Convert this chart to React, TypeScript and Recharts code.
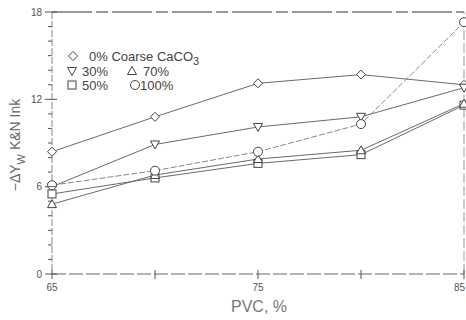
import React from 'react';
import { LineChart, Line, XAxis, YAxis, ReferenceLine, Customized } from 'recharts';

const pvc = [65, 70, 75, 80, 85];
const coarse0 = [8.4, 10.8, 13.1, 13.7, 13.0];
const coarse30 = [6.0, 8.9, 10.1, 10.8, 12.8];
const coarse50 = [5.5, 6.6, 7.6, 8.2, 11.6];
const coarse70 = [4.8, 6.8, 7.9, 8.5, 11.7];
const coarse100 = [6.1, 7.1, 8.4, 10.3, 17.3];

const xTicks = [65, 70, 75, 80, 85];
const xLabeled = [65, 75, 85];
const yTicks = [0, 1, 2, 3, 4, 5, 6, 7, 8, 9, 10, 11, 12, 13, 14, 15, 16, 17, 18];
const yLabeled = [0, 6, 12, 18];

const data = pvc.map((p, i) => ({
  pvc: p,
  c0: coarse0[i],
  c30: coarse30[i],
  c50: coarse50[i],
  c70: coarse70[i],
  c100: coarse100[i],
}));

const FONT = '"Liberation Sans", Arial, sans-serif';
const MK = '#444';
const LN = '#6a6a6a';

type Shape = 'diamond' | 'down' | 'up' | 'square' | 'circle';

const symbol = (shape: Shape, cx: number, cy: number, key?: any) => {
  const s = 4.5;
  const common = { fill: '#fff', stroke: MK, strokeWidth: 1 };
  switch (shape) {
    case 'diamond':
      return <path key={key} d={`M${cx},${cy - s} L${cx + s},${cy} L${cx},${cy + s} L${cx - s},${cy} Z`} {...common} />;
    case 'down':
      return <path key={key} d={`M${cx - s},${cy - s + 1} L${cx + s},${cy - s + 1} L${cx},${cy + s} Z`} {...common} />;
    case 'up':
      return <path key={key} d={`M${cx - s},${cy + s - 1} L${cx + s},${cy + s - 1} L${cx},${cy - s} Z`} {...common} />;
    case 'square':
      return <rect key={key} x={cx - 4} y={cy - 4} width={8} height={8} {...common} />;
    default:
      return <circle key={key} cx={cx} cy={cy} r={4.5} {...common} />;
  }
};

const makeDot = (shape: Shape) => (props: any) => {
  const { cx, cy, index } = props;
  if (cx == null || cy == null) return <g key={`e${index}`} />;
  return symbol(shape, cx, cy, `${shape}-${index}`);
};

const YTick = (props: any) => {
  const { x, y, payload } = props;
  const v = payload.value;
  const major = yLabeled.includes(v);
  return (
    <g>
      <line x1={major ? x - 7 : x - 4} x2={major ? x + 5 : x} y1={y} y2={y} stroke="#555" strokeWidth={1} />
      {major && (
        <text x={x - 10} y={y} dy={3.5} textAnchor="end" fontSize={10} fontFamily={FONT} fill="#555">
          {v}
        </text>
      )}
    </g>
  );
};

const XTick = (props: any) => {
  const { x, y, payload, index } = props;
  const v = payload.value;
  const last = index === xTicks.length - 1;
  return (
    <g>
      <line x1={x} x2={x} y1={y - 4} y2={y + 5} stroke="#555" strokeWidth={1} />
      {xLabeled.includes(v) && (
        <text
          x={last ? x + 1 : x}
          y={y + 17}
          textAnchor={last ? 'end' : 'middle'}
          fontSize={10}
          fontFamily={FONT}
          fill="#555"
        >
          {v}
        </text>
      )}
    </g>
  );
};

const Decor = () => {
  const t = { fontFamily: FONT, fill: '#444', fontSize: 13 } as const;
  return (
    <g>
      {symbol('diamond', 73, 56)}
      <text x={89} y={61} {...t}>0% Coarse CaCO<tspan dy={4} fontSize={11}>3</tspan></text>
      {symbol('down', 72, 71)}
      <text x={82} y={76} {...t}>30%</text>
      {symbol('up', 132, 71)}
      <text x={143} y={76} {...t}>70%</text>
      {symbol('square', 72, 85)}
      <text x={82} y={90} {...t}>50%</text>
      {symbol('circle', 135, 85)}
      <text x={140} y={90} {...t}>100%</text>

      <text x={259} y={312} textAnchor="middle" fontFamily={FONT} fontSize={16} fill="#777">PVC, %</text>

      <text
        x={20}
        y={145}
        transform="rotate(-90, 20, 145)"
        textAnchor="middle"
        fontFamily={FONT}
        fontSize={14}
        fill="#666"
      >
        −ΔY<tspan dy={5} fontSize={11}>W</tspan><tspan dy={-5}> K&amp;N Ink</tspan>
      </text>
    </g>
  );
};

export default function App() {
  return (
    <div style={{ position: 'fixed', left: 0, top: 0, width: 466, height: 320, overflow: 'hidden', background: '#fff' }}>
      <LineChart width={480} height={320} data={data} margin={{ top: 12, right: 16, left: 0, bottom: 16 }}>
        <XAxis
          dataKey="pvc"
          type="number"
          domain={[65, 85]}
          ticks={xTicks}
          tick={<XTick />}
          tickLine={false}
          tickSize={0}
          tickMargin={0}
          height={30}
          axisLine={{ stroke: '#666', strokeDasharray: '14 3' }}
          interval={0}
        />
        <YAxis
          type="number"
          domain={[0, 18]}
          ticks={yTicks}
          tick={<YTick />}
          tickLine={false}
          tickSize={0}
          tickMargin={0}
          width={52}
          axisLine={{ stroke: '#888', strokeDasharray: '7 2' }}
          interval={0}
        />
        <ReferenceLine y={18} stroke="#333" strokeDasharray="40 4 12 4" />
        <ReferenceLine x={85} stroke="#999" strokeDasharray="10 3" />
        <Line dataKey="c0" stroke={LN} strokeWidth={1} dot={makeDot('diamond')} isAnimationActive={false} />
        <Line dataKey="c30" stroke={LN} strokeWidth={1} dot={makeDot('down')} isAnimationActive={false} />
        <Line dataKey="c50" stroke={LN} strokeWidth={1} dot={makeDot('square')} isAnimationActive={false} />
        <Line dataKey="c70" stroke={LN} strokeWidth={1} dot={makeDot('up')} isAnimationActive={false} />
        <Line dataKey="c100" stroke="#888" strokeWidth={1} strokeDasharray="6 2" dot={makeDot('circle')} isAnimationActive={false} />
        <Customized component={Decor} />
      </LineChart>
    </div>
  );
}
